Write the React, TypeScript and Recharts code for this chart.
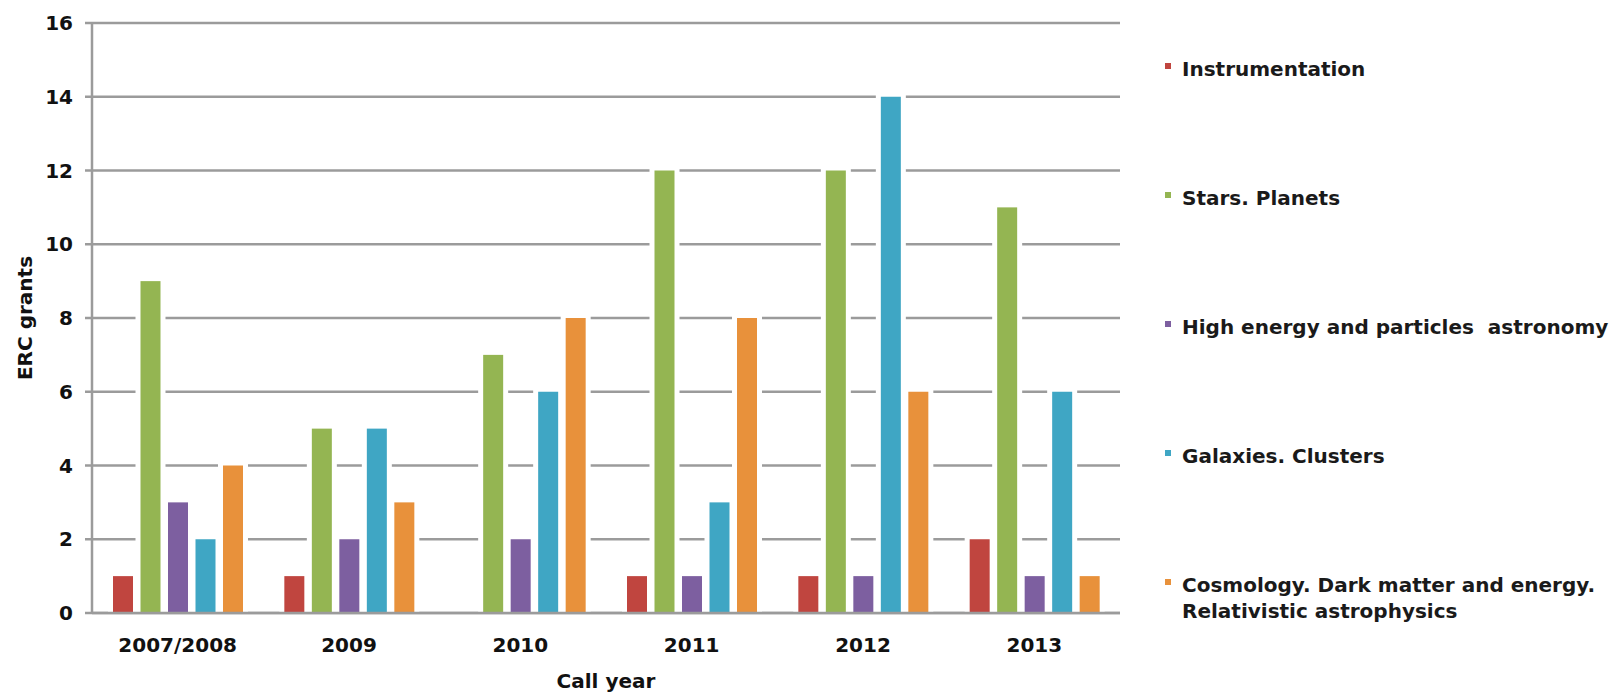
import React from "react";
import { BarChart, Bar, XAxis, YAxis, CartesianGrid } from "recharts";

const categories = ["2007/2008", "2009", "2010", "2011", "2012", "2013"];
const instrumentation = [1, 1, 0, 1, 1, 2];
const starsPlanets = [9, 5, 7, 12, 12, 11];
const highEnergy = [3, 2, 2, 1, 1, 1];
const galaxiesClusters = [2, 5, 6, 3, 14, 6];
const cosmology = [4, 3, 8, 8, 6, 1];
const yTicks = [0, 2, 4, 6, 8, 10, 12, 14, 16];

const seriesNames = [
  "Instrumentation",
  "Stars. Planets",
  "High energy and particles  astronomy",
  "Galaxies. Clusters",
  "Cosmology. Dark matter and energy.\nRelativistic astrophysics",
];

const keys = ["instr", "stars", "high", "gal", "cosmo"];
const colors = ["#c0453f", "#94b552", "#7d5fa0", "#3fa6c4", "#e8913b"];

const data = categories.map((name, i) => ({
  name,
  instr: instrumentation[i],
  stars: starsPlanets[i],
  high: highEnergy[i],
  gal: galaxiesClusters[i],
  cosmo: cosmology[i],
}));

const FONT = "'DejaVu Sans', 'Liberation Sans', Arial, sans-serif";
const GRID = "#9b9b9b";

// bar with a white halo that cuts the gridlines, like the original
const HaloBar = (props: any) => {
  const { x, y, width, height, fill } = props;
  if (!height || height <= 0) return null;
  const h = 5;
  return (
    <g>
      <rect x={x - h} y={y - h} width={width + 2 * h} height={height + h} fill="#fff" />
      <rect x={x} y={y} width={width} height={height} fill={fill} />
    </g>
  );
};

const tickStyle = { fill: "#111", fontSize: 20, fontWeight: 700, fontFamily: FONT };

function LegendBox() {
  return (
    <div
      style={{
        position: "absolute",
        left: 1165,
        top: 56,
        fontFamily: FONT,
        fontWeight: 700,
        fontSize: 20,
        color: "#1a1a1a",
      }}
    >
      {seriesNames.map((label, i) => (
        <div key={keys[i]} style={{ height: 129, display: "flex", alignItems: "flex-start" }}>
          <span
            style={{
              display: "inline-block",
              width: 6,
              height: 6,
              marginTop: 7,
              marginRight: 11,
              background: colors[i],
              flex: "none",
            }}
          />
          <span style={{ lineHeight: "26px", whiteSpace: "pre" }}>{label}</span>
        </div>
      ))}
    </div>
  );
}

export default function App() {
  return (
    <div
      style={{
        position: "absolute",
        left: 0,
        top: 0,
        width: 1617,
        height: 695,
        background: "#fff",
        overflow: "hidden",
      }}
    >
      <BarChart
        width={1617}
        height={695}
        data={data}
        margin={{ top: 23, right: 497, left: 0, bottom: 0 }}
        barSize={20}
        barGap={7.5}
      >
        <CartesianGrid vertical={false} stroke={GRID} strokeWidth={2.5} />
        <XAxis
          dataKey="name"
          height={82}
          tick={tickStyle}
          tickLine={false}
          axisLine={{ stroke: GRID, strokeWidth: 2.5 }}
          tickMargin={19}
          interval={0}
          label={{
            value: "Call year",
            position: "insideBottom",
            offset: 7,
            style: { fill: "#111", fontSize: 20, fontWeight: 700, fontFamily: FONT },
          }}
        />
        <YAxis
          width={92}
          domain={[0, 16]}
          ticks={yTicks}
          interval={0}
          tick={tickStyle}
          tickSize={7}
          tickMargin={12}
          tickLine={{ stroke: GRID, strokeWidth: 2.5 }}
          axisLine={{ stroke: GRID, strokeWidth: 2.5 }}
          label={{
            value: "ERC grants",
            angle: -90,
            position: "insideLeft",
            offset: 25,
            style: {
              fill: "#111",
              fontSize: 20,
              fontWeight: 700,
              fontFamily: FONT,
              textAnchor: "middle",
            },
          }}
        />
        {keys.map((k, i) => (
          <Bar
            key={k}
            dataKey={k}
            name={seriesNames[i]}
            fill={colors[i]}
            shape={HaloBar}
            isAnimationActive={false}
          />
        ))}
      </BarChart>
      <LegendBox />
    </div>
  );
}
